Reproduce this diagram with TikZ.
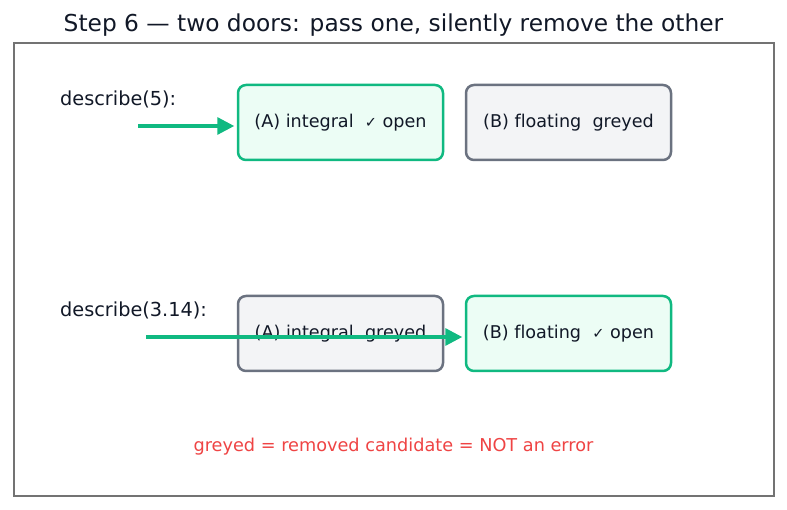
\documentclass[tikz,border=0pt]{standalone}
\usepackage{fontspec}
\setmainfont[Ligatures=NoCommon]{DejaVu Sans}
\usetikzlibrary{arrows.meta}
\definecolor{grn}{HTML}{10B981}
\definecolor{grnfill}{HTML}{ECFDF5}
\definecolor{gry}{HTML}{6B7280}
\definecolor{gryfill}{HTML}{F3F4F6}
\definecolor{ink}{HTML}{111827}
\definecolor{redtxt}{HTML}{EF4444}
\newcommand{\chk}{{\fontsize{14.5}{16}\selectfont ✓}}
\tikzset{
  door/.style={rounded corners=8pt, minimum width=205pt, minimum height=75pt, line width=2.5pt, text=ink, font=\fontsize{17.6}{20}\selectfont},
  open/.style={door, draw=grn, fill=grnfill},
  grey/.style={door, draw=gry, fill=gryfill},
  calllabel/.style={anchor=base west, text=ink, font=\fontsize{19.3}{22}\selectfont, inner sep=0pt},
  pass/.style={draw=grn, line width=3.2pt, shorten >=2.5pt, -{Triangle[length=17pt,width=17pt]}},
}
\begin{document}
\begin{tikzpicture}[x=1pt,y=-1pt]
\useasboundingbox (0,0) rectangle (787,510);
\fill[white] (0,0) rectangle (787,510);
\node[anchor=base, text=ink, font=\fontsize{23.3}{26}\selectfont, inner sep=0pt] (title) at (393.5,32) {Step 6 — two doors: pass one, silently remove the other};
\draw[draw=gray!90!black, line width=1.5pt] (14,43) rectangle (774,496);
\node[calllabel] (l1) at (60,106) {describe(5):};
\node[calllabel] (l2) at (60,317) {describe(3.14):};
\node[open] (a1) at (340.5,122.5) {(A) integral~~\chk{} open};
\node[grey] (b1) at (568.5,122.5) {(B) floating~~greyed};
\node[grey] (a2) at (340.5,333.5) {(A) integral~~greyed};
\node[open] (b2) at (568.5,333.5) {(B) floating~~\chk{} open};
\coordinate (s1) at (138,126);
\coordinate (s2) at (146,337);
\draw[pass] (s1) -- (a1.west |- s1);
\draw[pass] (s2) -- (b2.west |- s2);
\node[anchor=base, text=redtxt, font=\fontsize{17.7}{20}\selectfont, inner sep=0pt] (note) at (393.5,451.5) {greyed = removed candidate = NOT an error};
\end{tikzpicture}
\end{document}
